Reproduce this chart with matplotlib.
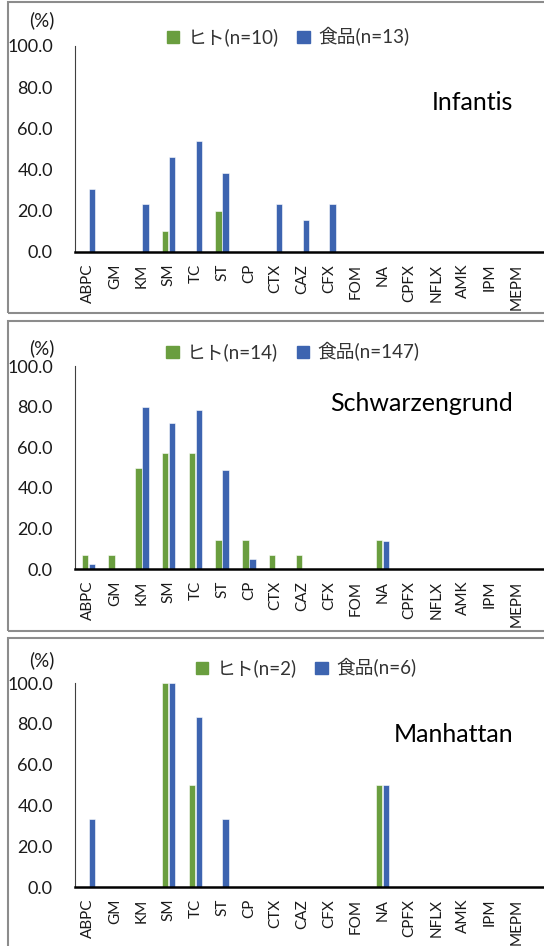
import matplotlib
matplotlib.use('Agg')
import matplotlib.pyplot as plt
from matplotlib.patches import Rectangle, Patch

plt.rcParams['font.family'] = ['Lato', 'Noto Sans CJK JP', 'DejaVu Sans']

W, H = 544, 946

drugs = ['ABPC', 'GM', 'KM', 'SM', 'TC', 'ST', 'CP', 'CTX', 'CAZ', 'CFX',
         'FOM', 'NA', 'CPFX', 'NFLX', 'AMK', 'IPM', 'MEPM']

serovars = ['Infantis', 'Schwarzengrund', 'Manhattan']
n_human = [10, 14, 2]
n_food = [13, 147, 6]

human_infantis = [0, 0, 0, 10.0, 0, 20.0, 0, 0, 0, 0, 0, 0, 0, 0, 0, 0, 0]
food_infantis = [30.8, 0, 23.1, 46.2, 53.8, 38.5, 0, 23.1, 15.4, 23.1, 0, 0, 0, 0, 0, 0, 0]

human_schwarz = [7.1, 7.1, 50.0, 57.1, 57.1, 14.3, 14.3, 7.1, 7.1, 0, 0, 14.3, 0, 0, 0, 0, 0]
food_schwarz = [2.7, 0, 79.6, 72.1, 78.2, 49.0, 4.8, 0, 0, 0, 0, 13.6, 0, 0, 0, 0, 0]

human_manhattan = [0, 0, 0, 100.0, 50.0, 0, 0, 0, 0, 0, 0, 50.0, 0, 0, 0, 0, 0]
food_manhattan = [33.3, 0, 0, 100.0, 83.3, 33.3, 0, 0, 0, 0, 0, 50.0, 0, 0, 0, 0, 0]

human_vals = [human_infantis, human_schwarz, human_manhattan]
food_vals = [food_infantis, food_schwarz, food_manhattan]

GREEN = '#6a9e3f'
BLUE = '#3d64b0'

# layout in pixels: (frame top, frame bottom, y of 0, y of 100, (%) y, legend centre, name y)
panels = [
    (2, 313, 252, 46, 20, (288, 37), 102),
    (321, 631, 569, 366, 348, (293, 352), 403),
    (638, 960, 887, 683, 660, (306, 668), 734),
]

fig = plt.figure(figsize=(W / 100, H / 100), dpi=100)

x_left = 75
step = 26.75
x_right = 620

for k, (ftop, fbot, y0, y100, pct_y, leg_c, name_y) in enumerate(panels):
    fig.patches.append(Rectangle((8 / W, 1 - fbot / H), 1.2, (fbot - ftop) / H,
                                 transform=fig.transFigure, fill=False,
                                 edgecolor='#8c8c8c', lw=1.5))
    ax = fig.add_axes([x_left / W, 1 - y0 / H, (x_right - x_left) / W, (y0 - y100) / H])
    x = list(range(len(drugs)))
    ax.bar([i - 0.13 for i in x], human_vals[k], width=0.25, color=GREEN,
           edgecolor='white', linewidth=0.4)
    ax.bar([i + 0.13 for i in x], food_vals[k], width=0.25, color=BLUE,
           edgecolor='white', linewidth=0.4)
    ax.set_xlim(-0.5, -0.5 + (x_right - x_left) / step)
    ax.set_ylim(0, 100)
    ax.set_yticks([0, 20, 40, 60, 80, 100])
    ax.set_yticklabels([f'{v:.1f}' for v in [0, 20, 40, 60, 80, 100]], fontsize=13)
    ax.set_xticks(x)
    ax.set_xticklabels(drugs, rotation=90, fontsize=11)
    ax.tick_params(axis='y', length=0, pad=16, colors='#1a1a1a')
    ax.tick_params(axis='x', length=0, pad=8.5, colors='#1a1a1a')
    for s in ['top', 'right']:
        ax.spines[s].set_visible(False)
    ax.spines['left'].set_color('#404040')
    ax.spines['left'].set_linewidth(0.8)
    ax.spines['bottom'].set_color('black')
    ax.spines['bottom'].set_linewidth(1.8)
    ax.set_facecolor('none')

    fig.text(42 / W, 1 - pct_y / H, '(%)', fontsize=13.5, ha='center', va='center', color='#1a1a1a')
    fig.text(513 / W, 1 - name_y / H, serovars[k], fontsize=18, ha='right', va='center', color='black')

    handles = [Patch(color=GREEN), Patch(color=BLUE)]
    fig.legend(handles, [f'ヒト(n={n_human[k]})', f'食品(n={n_food[k]})'],
               loc='center', bbox_to_anchor=(leg_c[0] / W, 1 - leg_c[1] / H),
               ncol=2, frameon=False, fontsize=13.5, handlelength=0.65, handleheight=0.65,
               handletextpad=0.45, columnspacing=1.0, labelcolor='#333333')

fig.savefig('out.png', dpi=100)
